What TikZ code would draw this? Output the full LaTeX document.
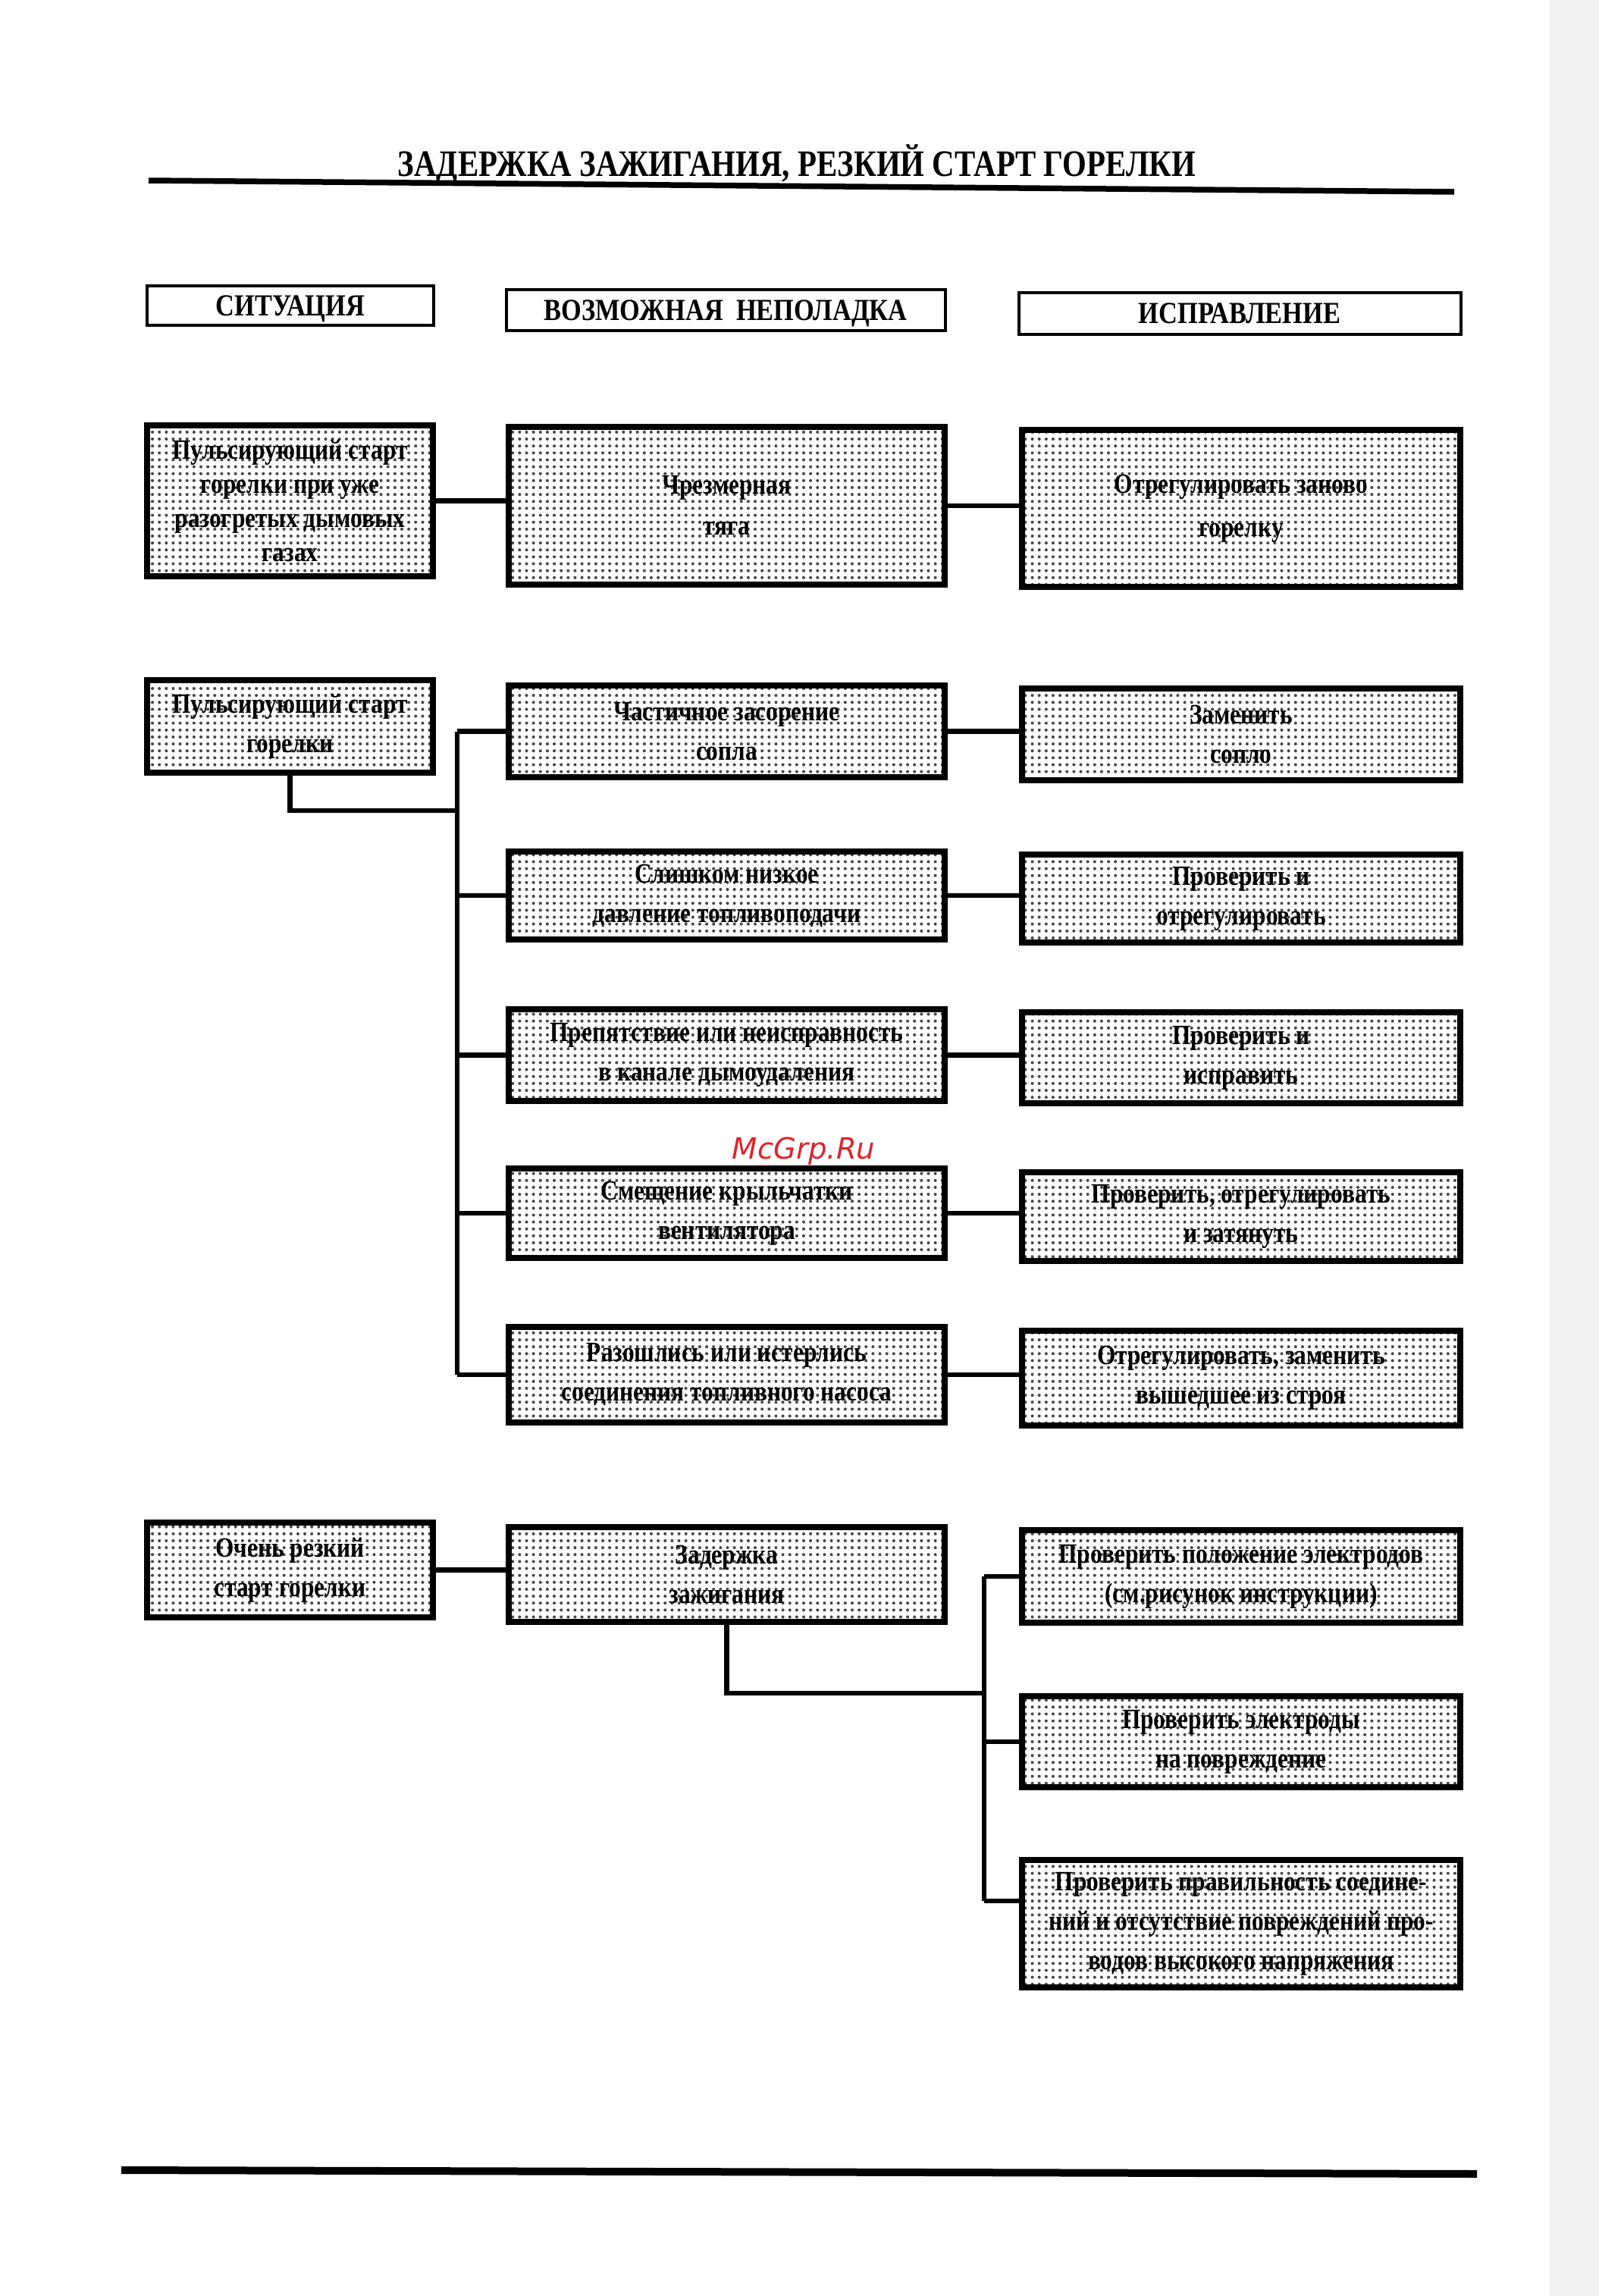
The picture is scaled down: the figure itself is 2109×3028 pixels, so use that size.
\documentclass[tikz,border=0pt]{standalone}
\usepackage{fontspec}
\setmainfont{Liberation Serif}
\newfontfamily\cnd[FakeStretch=0.85]{Liberation Serif}
\newfontfamily\ttl[FakeStretch=0.83]{Liberation Serif}
\newfontfamily\wmfont{DejaVu Sans Oblique}
\usetikzlibrary{patterns.meta}
\definecolor{wmred}{HTML}{E0242C}
\tikzset{
  hdr/.style={draw, line width=0.4mm, fill=white, inner sep=0pt, text height=7.6pt, text depth=0pt,
    font=\cnd\bfseries\fontsize{11.5}{13}\selectfont},
  mbox/.style={draw, line width=0.8mm, preaction={fill=white},
    pattern={Dots[distance=2.6pt, radius=0.58pt]}, pattern color=black!72,
    align=center, inner sep=0pt, font=\cnd\bfseries\fontsize{10.5}{14.8}\selectfont},
  sbox/.style={mbox, minimum width=37.7mm},
  pbox/.style={mbox, minimum width=57.5mm},
  fbox/.style={mbox, minimum width=57.8mm},
  conn/.style={line width=0.65mm},
  rule/.style={line width=0.75mm},
}
\begin{document}
\begin{tikzpicture}[x=0.1mm, y=-0.1mm]
\useasboundingbox (0,0) rectangle (2109,3028);
\fill[white] (0,0) rectangle (2109,3028);
\fill[black!6] (2044,0) rectangle (2109,3028);

% title
\node[anchor=base, inner sep=0pt, font=\ttl\bfseries\fontsize{14}{16}\selectfont] (title) at (1051,232) {ЗАДЕРЖКА ЗАЖИГАНИЯ, РЕЗКИЙ СТАРТ ГОРЕЛКИ};
\coordinate (rl) at (196,238);
\coordinate (rr) at (1918,253);
\draw[rule] (rl) -- (rr);

% headers
\node[hdr, minimum width=37.8mm, minimum height=5.2mm] (h1) at (383,403) {СИТУАЦИЯ};
\node[hdr, minimum width=57.9mm, minimum height=5.4mm] (h2) at (957,409) {ВОЗМОЖНАЯ\ \ НЕПОЛАДКА};
\node[hdr, minimum width=58.3mm, minimum height=5.5mm] (h3) at (1635,413) {ИСПРАВЛЕНИЕ};

% row 1
\node[sbox, minimum height=19.9mm, font=\cnd\bfseries\fontsize{10.5}{12.8}\selectfont] (S1) at (382.5,660.5) {Пульсирующий старт\\горелки при уже\\разогретых дымовых\\газах};
\node[pbox, minimum height=20.8mm, font=\cnd\bfseries\fontsize{10.5}{15.4}\selectfont] (P1) at (958.5,667) {Чрезмерная\\тяга};
\node[fbox, minimum height=20.7mm, font=\cnd\bfseries\fontsize{10.5}{16.2}\selectfont] (F1) at (1637,670.5) {Отрегулировать заново\\горелку};
\draw[conn] (S1.east) -- (S1.east -| P1.west);
\draw[conn] (P1.east) -- (P1.east -| F1.west);

% row 2
\node[sbox, minimum height=12.2mm] (S2) at (382.5,958) {Пульсирующий старт\\горелки};
\node[pbox, minimum height=12.1mm] (P2a) at (958.5,964.5) {Частичное засорение\\сопла};
\node[fbox, minimum height=12.1mm] (F2a) at (1637,968.5) {Заменить\\сопло};
\node[pbox, minimum height=11.6mm] (P2b) at (958.5,1181) {Слишком низкое\\давление топливоподачи};
\node[fbox, minimum height=11.6mm] (F2b) at (1637,1185) {Проверить и\\отрегулировать};
\node[pbox, minimum height=12.1mm] (P2c) at (958.5,1391.5) {Препятствие или неисправность\\в канале дымоудаления};
\node[fbox, minimum height=12.0mm] (F2c) at (1637,1395) {Проверить и\\исправить};
\node[pbox, minimum height=11.8mm] (P2d) at (958.5,1600) {Смещение крыльчатки\\вентилятора};
\node[fbox, minimum height=11.7mm] (F2d) at (1637,1604.5) {Проверить, отрегулировать\\и затянуть};
\node[pbox, minimum height=12.6mm] (P2e) at (958.5,1813) {Разошлись или истерлись\\соединения топливного насоса};
\node[fbox, minimum height=12.5mm] (F2e) at (1637,1817.5) {Отрегулировать, заменить\\вышедшее из строя};

\coordinate (J1) at (603,1069);
\draw[conn] (S2.south) |- (J1);
\draw[conn] (P2a.west -| J1) -- (P2e.west -| J1);
\foreach \n in {P2a,P2b,P2c,P2d,P2e} {
  \draw[conn] (\n.west -| J1) -- (\n.west);
}
\draw[conn] (P2a.east) -- (P2a.east -| F2a.west);
\draw[conn] (P2b.east) -- (P2b.east -| F2b.west);
\draw[conn] (P2c.east) -- (P2c.east -| F2c.west);
\draw[conn] (P2d.east) -- (P2d.east -| F2d.west);
\draw[conn] (P2e.east) -- (P2e.east -| F2e.west);

% row 3
\node[sbox, minimum height=12.5mm] (S3) at (382.5,2070.5) {Очень резкий\\старт горелки};
\node[pbox, minimum height=12.5mm] (P3) at (958.5,2076.5) {Задержка\\зажигания};
\node[fbox, minimum height=12.2mm] (F3a) at (1637,2079) {Проверить положение электродов\\(см.рисунок инструкции)};
\node[fbox, minimum height=12.0mm] (F3b) at (1637,2297) {Проверить электроды\\на повреждение};
\node[fbox, minimum height=16.8mm] (F3c) at (1637,2537) {Проверить правильность соедине-\\ний и отсутствие повреждений про-\\водов высокого напряжения};
\draw[conn] (S3.east) -- (S3.east -| P3.west);
\coordinate (J2) at (1298,2233);
\coordinate (T3) at (1298,2507);
\draw[conn] (P3.south) |- (J2);
\draw[conn] (F3a.west -| J2) -- (T3);
\draw[conn] (F3a.west -| J2) -- (F3a.west);
\draw[conn] (F3b.west -| J2) -- (F3b.west);
\draw[conn] (T3) -- (T3 -| F3c.west);

% bottom rule
\coordinate (bl) at (160,2862);
\coordinate (br) at (1948,2867);
\draw[line width=1.0mm] (bl) -- (br);

% watermark
\node[anchor=base, inner sep=0pt, text=wmred, font=\wmfont\fontsize{11}{13}\selectfont] (wm) at (1060,1528) {McGrp.Ru};
\end{tikzpicture}
\end{document}
